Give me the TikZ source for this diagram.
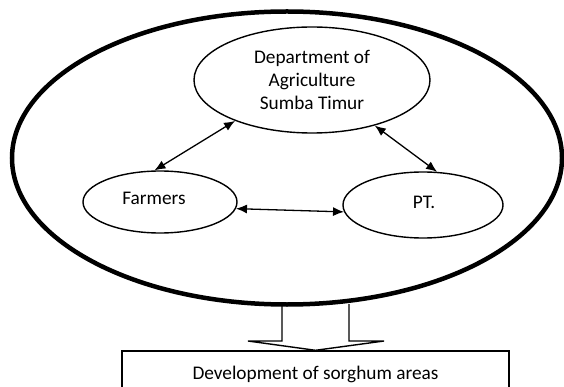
\documentclass[tikz,border=0pt]{standalone}
\usepackage{fontspec}
\setmainfont{Carlito}
\usetikzlibrary{shapes.geometric,arrows.meta}

\tikzset{
  actor/.style={ellipse, draw, line width=1.4pt, inner sep=0pt, align=center},
  biarrow/.style={{Latex[length=11pt,width=9pt]}-{Latex[length=11pt,width=9pt]}, line width=1.3pt}
}

\begin{document}
\begin{tikzpicture}[x=1pt, y=-1pt, font=\fontsize{19.3}{22.8}\selectfont]

\clip (0,0) rectangle (564,387);

% nodes
\node (group) [ellipse, draw, line width=4.5pt, minimum width=550pt, minimum height=293pt] at (287,158) {};
\node (dept) [actor, minimum width=236pt, minimum height=106pt] at (312,80) {Department of\\Agriculture\\Sumba Timur};
\node (farm) [actor, minimum width=154pt, minimum height=62pt] at (160,202) {};
\node at (154,198) {Farmers};
\node (pt) [actor, minimum width=160pt, minimum height=66pt] at (423,205) {};
\node at (424,202) {PT.};
\node (dev) [draw, line width=1.4pt, minimum width=387pt, minimum height=46pt] at (315.5,374) {Development of sorghum areas};

% arrows
\draw [biarrow] (farm.100) -- (dept.208);
\draw [biarrow] (dept.-36) -- (pt.67);
\draw [biarrow] (farm.-5) -- (pt.185);

% hollow arrow
\draw [line width=1.4pt, line join=miter] (282,304) -- (282,341) -- (248,341) -- (dev.north) -- (384,341) -- (349,341) -- (349,304);

\end{tikzpicture}
\end{document}
